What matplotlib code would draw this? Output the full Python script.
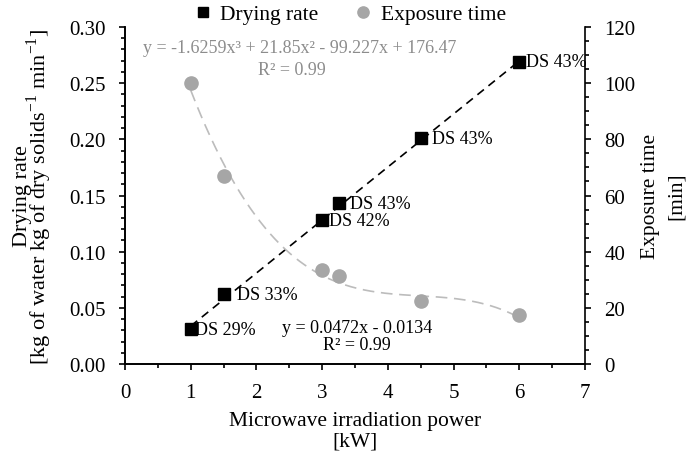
import matplotlib
matplotlib.use("Agg")
import matplotlib.pyplot as plt
import numpy as np
from matplotlib.ticker import MultipleLocator

plt.rcParams['font.family'] = ['Liberation Serif', 'DejaVu Serif']
plt.rcParams['mathtext.fontset'] = 'custom'
plt.rcParams['mathtext.rm'] = 'Liberation Serif'
plt.rcParams['font.size'] = 13

# Data
power_kw = [1, 1.5, 3, 3.25, 4.5, 6]
drying_rate = [0.031, 0.062, 0.128, 0.143, 0.201, 0.269]
exposure_time = [100, 67, 33.5, 31.5, 22.5, 17.5]
ds_labels = ['DS 29%', 'DS 33%', 'DS 42%', 'DS 43%', 'DS 43%', 'DS 43%']
lin_coef = [0.0472, -0.0134]
poly_coef = [-1.6259, 21.85, -99.227, 176.47]
lin_text = 'y = 0.0472x - 0.0134\nR² = 0.99'
poly_eq_text = 'y = -1.6259x³ + 21.85x² - 99.227x + 176.47'
r2_text = 'R² = 0.99'

label_offsets = [(3, 0), (10, 0), (5, 0), (8, 0), (8, 0), (5, 0)]

TICK_FS = 15
LAB_FS = 15.5

fig = plt.figure(figsize=(6.87, 4.60), dpi=100)
ax = fig.add_axes([0.182, 0.2065, 0.6696, 0.7326])
ax2 = ax.twinx()

# trendlines
xl = np.linspace(1, 6, 100)
ax.plot(xl, np.polyval(lin_coef, xl), color='black', lw=1.2, ls=(0, (5, 3.5)), zorder=2)
xp = np.linspace(1, 6, 200)
ax2.plot(xp, np.polyval(poly_coef, xp), color='#bcbcbc', lw=1.2, ls=(0, (7, 4)), zorder=2)

ax.plot(power_kw, drying_rate, ls='none', marker='s', ms=8.5, color='black', zorder=4,
        label='Drying rate')
ax2.plot(power_kw, exposure_time, ls='none', marker='o', ms=9.5, color='#a6a6a6', zorder=3,
         label='Exposure time')

for x, y, t, off in zip(power_kw, drying_rate, ds_labels, label_offsets):
    ax.annotate(t, (x, y), xytext=off, textcoords='offset points', ha='left', va='center',
                fontsize=13, zorder=5)

ax.text(3.53, 0.025, lin_text, ha='center', va='center', fontsize=13, linespacing=1.05)
ax.text(2.66, 0.282, poly_eq_text, ha='center', va='center', fontsize=13, color='#8c8c8c')
ax.text(2.54, 0.262, r2_text, ha='center', va='center', fontsize=13, color='#8c8c8c')

ax.set_xlim(0, 7)
ax.set_ylim(0, 0.30)
ax2.set_ylim(0, 120)
ax.xaxis.set_major_locator(MultipleLocator(1))
ax.xaxis.set_minor_locator(MultipleLocator(0.5))
ax.yaxis.set_major_locator(MultipleLocator(0.05))
ax.yaxis.set_minor_locator(MultipleLocator(0.01))
ax2.yaxis.set_major_locator(MultipleLocator(20))
ax2.yaxis.set_minor_locator(MultipleLocator(5))
ax.yaxis.set_major_formatter(matplotlib.ticker.FormatStrFormatter('%.2f'))

for a in (ax, ax2):
    a.spines['top'].set_visible(False)
    for s in a.spines.values():
        s.set_linewidth(1.2)
    a.tick_params(which='major', direction='out', length=4, width=1.2, labelsize=TICK_FS)
    a.tick_params(which='minor', direction='out', length=3, width=1.2)
ax.spines['right'].set_visible(False)
ax.tick_params(axis='y', pad=10)
ax.tick_params(axis='x', pad=10)
ax2.tick_params(axis='y', pad=10)

ax.set_xlabel('Microwave irradiation power\n[kW]', fontsize=LAB_FS, linespacing=1.15, labelpad=6)
ax.set_ylabel('Drying rate\n[kg of water kg of dry solids$^{\\mathregular{-1}}$ min$^{\\mathregular{-1}}$]',
              fontsize=16, linespacing=0.65, labelpad=11)
ax2.set_ylabel('Exposure time\n[min]', fontsize=LAB_FS, linespacing=1.5, labelpad=4)

h1, l1 = ax.get_legend_handles_labels()
h2, l2 = ax2.get_legend_handles_labels()
fig.legend(h1 + h2, l1 + l2, loc='center', bbox_to_anchor=(350 / 687, 1 - 15 / 460), ncol=2,
           frameon=False, fontsize=15.5, handlelength=0.8, handletextpad=0.4, columnspacing=1.7,
           markerscale=0.85)

fig.savefig('out.png', dpi=100)
